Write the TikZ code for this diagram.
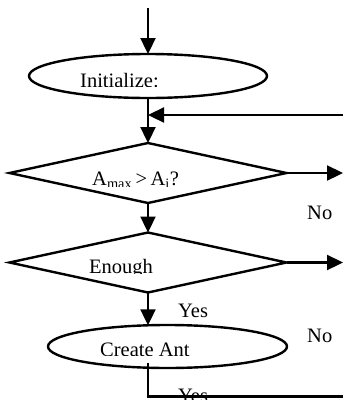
\documentclass[tikz,border=0pt]{standalone}
\usepackage{fontspec}
\setmainfont{Liberation Serif}
\usetikzlibrary{shapes.geometric,arrows.meta}
\begin{document}
\begin{tikzpicture}[x=1pt,y=-1pt,
  ln/.style={line width=2.3pt},
  arr/.style={ln,-{Triangle[length=16pt,width=15pt]}},
  oval/.style={ellipse,draw,line width=2.4pt,inner sep=0pt,outer sep=0pt},
  dia/.style={diamond,draw,line width=2.4pt,inner sep=0pt,outer sep=0pt,minimum width=277pt,minimum height=60pt},
  txt/.style={font=\fontsize{20.5}{24}\selectfont,inner sep=0pt,anchor=base west},
]
\clip (0,0) rectangle (343,400);
\node[oval,minimum width=238pt,minimum height=44pt] (init) at (148,76) {};
\node[dia] (d1) at (148,173) {};
\node[dia] (d2) at (148,262.5) {};
\node[oval,minimum width=239pt,minimum height=43pt] (ce) at (167.5,346.5) {};
\coordinate (top) at (148,8);
\coordinate (loopin) at (343,115);
\coordinate (out1) at (343,173);
\coordinate (out2) at (343,262.5);
\coordinate (cs) at (148,363);
\coordinate (corner) at (148,396.5);
\coordinate (outb) at (343,396.5);
\draw[arr] (top) -- (init.north);
\draw[arr] (init.south) -- (d1.north);
\draw[arr] (loopin) -- (loopin -| init.south);
\draw[arr] (d1.east) -- (out1);
\draw[arr] (d1.south) -- (d2.north);
\draw[arr] (d2.east) -- (out2);
\draw[arr] (d2.south) -- (d2.south |- ce.132.6);
\draw[ln] (cs) -- (corner) -- (outb);
\begin{scope}
  \clip (0,60) rectangle (343,86);
  \node[txt] (tinit) at (80,87) {Initialize:};
\end{scope}
\begin{scope}
  \clip (0,160) rectangle (343,186.5);
  \node[txt] (tamax) at (92,185.5) {A\textsubscript{max}\,>\,A\textsubscript{i}?};
\end{scope}
\begin{scope}
  \clip (0,250) rectangle (343,273);
  \node[txt] (tenough) at (89,273.5) {Enough};
\end{scope}
\begin{scope}
  \clip (0,335) rectangle (343,355);
  \node[txt] (tcreate) at (100,356.5) {Create Ant};
\end{scope}
\node[txt] (no1) at (307,219.5) {No};
\node[txt] (yes1) at (178,317) {Yes};
\node[txt] (no2) at (307,342) {No};
\node[txt] (yes2) at (178,402) {Yes};
\end{tikzpicture}
\end{document}
